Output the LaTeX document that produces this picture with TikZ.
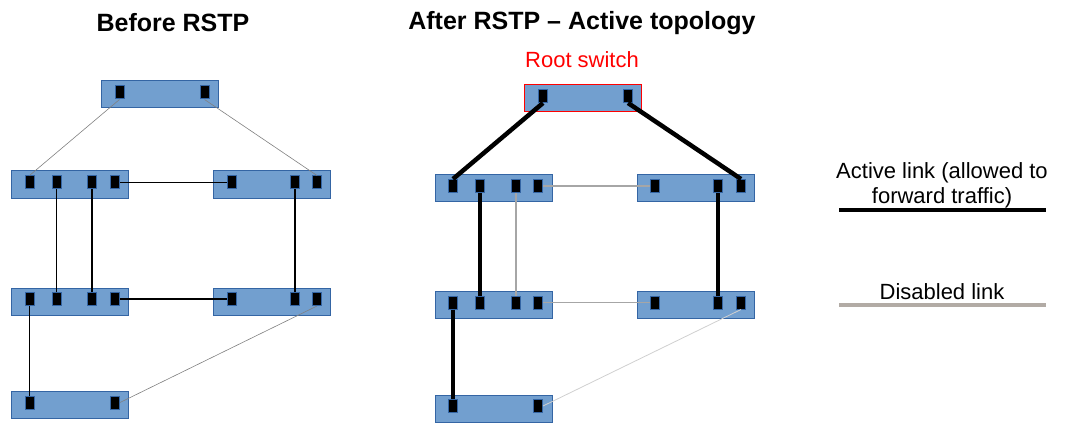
\documentclass[tikz,border=0pt]{standalone}
\usepackage{fontspec}
\setmainfont{Liberation Sans}
\definecolor{swfill}{HTML}{729FCF}
\definecolor{swline}{HTML}{3465A4}
\definecolor{dislink}{HTML}{A6A6A6}
\definecolor{dislight}{HTML}{D0D0D0}
\definecolor{legdis}{HTML}{B2ABA5}
\tikzset{
  sw/.style={draw=swline, line width=1pt, fill=swfill, minimum width=117pt, minimum height=27pt, inner sep=0pt},
  port/.style={draw=swline, line width=1pt, fill=black, minimum width=9pt, minimum height=13pt, inner sep=0pt},
  thinlink/.style={draw=gray, line width=0.6pt},
  blacklink/.style={draw=black, line width=1.3pt},
  activelink/.style={draw=black, line width=4.5pt},
  disabledlink/.style={draw=dislink, line width=1.3pt},
  lightlink/.style={draw=dislight, line width=0.8pt},
  title/.style={font=\fontsize{25}{30}\selectfont\bfseries},
  lbl/.style={font=\fontsize{22}{25}\selectfont, align=center, inner sep=0pt}
}
\begin{document}
\begin{tikzpicture}[x=1pt,y=-1pt]
\useasboundingbox (0,0) rectangle (1066,425);
% titles
\node[title] (t1) at (173,23) {Before RSTP};
\node[title] (t2) at (582,23) {After RSTP – Active topology};
\node[lbl, text=red] (rootlbl) at (582,60) {Root switch};
% ---------- left ----------
\node[sw] (L0) at (159.5,94.5) {};
\node[sw] (L1a) at (69.5,184.5) {};
\node[sw] (L1b) at (272,184.5) {};
\node[sw] (L2a) at (69.5,301.5) {};
\node[sw] (L2b) at (272,301.5) {};
\node[sw] (L3) at (69.5,405) {};
\node[port] (L0p1) at (119.5,92.5) {};
\node[port] (L0p2) at (204.5,92.5) {};
\foreach \n/\x in {1/29.5,2/56.5,3/92,4/115}{
  \node[port] (L1ap\n) at (\x,182.5) {};
  \node[port] (L2ap\n) at (\x,299) {};
}
\foreach \n/\x in {1/232,2/295,3/317}{
  \node[port] (L1bp\n) at (\x,182.5) {};
  \node[port] (L2bp\n) at (\x,299) {};
}
\node[port] (L3p1) at (29.5,402.5) {};
\node[port] (L3p2) at (115,402.5) {};
\draw[thinlink] (L0p1.south) -- (L1ap1.north);
\draw[thinlink] (L0p2.south) -- (L1bp3.north);
\draw[blacklink] (L1ap4.east) -- (L1bp1.west);
\draw[blacklink] (L1ap2.south) -- (L2ap2.north);
\draw[blacklink] (L1ap3.south) -- (L2ap3.north);
\draw[blacklink] (L1bp2.south) -- (L2bp2.north);
\draw[blacklink] (L2ap4.east) -- (L2bp1.west);
\draw[blacklink] (L2ap1.south) -- (L3p1.north);
\draw[thinlink] (L2bp3.south) -- (L3p2.east);
% ---------- right ----------
\node[sw, draw=red] (R0) at (583,98.5) {};
\node[sw] (R1a) at (493.5,188) {};
\node[sw] (R1b) at (695.5,188) {};
\node[sw] (R2a) at (493.5,304.5) {};
\node[sw] (R2b) at (695.5,304.5) {};
\node[sw] (R3) at (493.5,408.5) {};
\node[port] (R0p1) at (543,96) {};
\node[port] (R0p2) at (628,96) {};
\foreach \n/\x in {1/453,2/480,3/516,4/538}{
  \node[port] (R1ap\n) at (\x,186) {};
  \node[port] (R2ap\n) at (\x,302.5) {};
}
\foreach \n/\x in {1/655,2/718,3/741}{
  \node[port] (R1bp\n) at (\x,186) {};
  \node[port] (R2bp\n) at (\x,302.5) {};
}
\node[port] (R3p1) at (453,406) {};
\node[port] (R3p2) at (538,406) {};
\draw[activelink] (R0p1.south) -- (R1ap1.north);
\draw[activelink] (R0p2.south) -- (R1bp3.north);
\draw[disabledlink] (R1ap4.east) -- (R1bp1.west);
\draw[activelink] (R1ap2.south) -- (R2ap2.north);
\draw[disabledlink] (R1ap3.south) -- (R2ap3.north);
\draw[activelink] (R1bp2.south) -- (R2bp2.north);
\draw[disabledlink] (R2ap4.east) -- (R2bp1.west);
\draw[activelink] (R2ap1.south) -- (R3p1.north);
\draw[lightlink] (R2bp3.south) -- (R3p2.east);
% ---------- legend ----------
\node[lbl] (leg1) at (942,185) {Active link (allowed to\\forward traffic)};
\coordinate (la1) at (839,210);
\coordinate (la2) at (1046,210);
\draw[black, line width=4pt] (la1) -- (la2);
\node[lbl] (leg2) at (942,292) {Disabled link};
\coordinate (ld1) at (839,304.5);
\coordinate (ld2) at (1046,304.5);
\draw[legdis, line width=4pt] (ld1) -- (ld2);
\end{tikzpicture}
\end{document}
